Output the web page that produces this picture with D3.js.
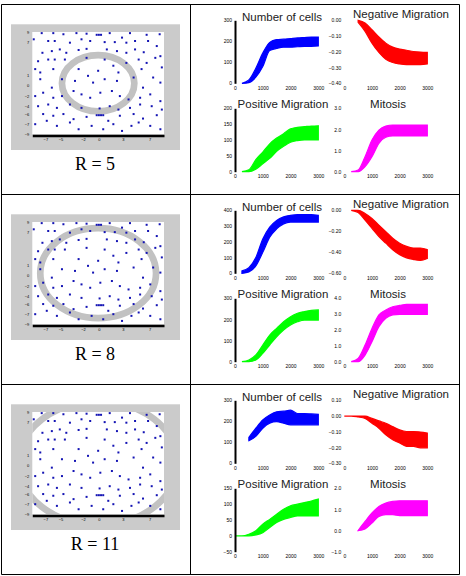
<!DOCTYPE html>
<html lang="en">
<head>
<meta charset="UTF-8">
<title>Cell runs for R = 5, 8, 11</title>
<script src="https://d3js.org/d3.v7.min.js"></script>
<style>
  body { margin: 0; background: #fff; }
  .title { font-family: "Liberation Sans", Arial, sans-serif; font-size: 11.5px; fill: #222; }
  .tick text { font-family: "Liberation Sans", Arial, sans-serif; fill: #000; }
  .rlabel { font-family: "Liberation Serif", "Times New Roman", serif; font-size: 18px; fill: #000; }
</style>
</head>
<body>
<div id="chart"></div>
<script>
// time steps shared by every small plot
const time = [0, 250, 500, 750, 1000, 1250, 1500, 1750, 2000, 2250, 2500, 2750, 3000];
const xTicks = [0, 1000, 2000, 3000];
const radii = [5, 8, 11];
const titles = ["Number of cells", "Negative Migration", "Positive Migration", "Mitosis"];
const colors = ["#0000ff", "#ff0000", "#00ff00", "#ff00ff"];

// R = 5 : lower / upper edge of the bundle of runs
const cellsLo5 = [null, 0, 3, 29, 80, 156, 166, 172, 172, 174, 176, 176, 178];
const cellsHi5 = [null, 0, 16, 72, 144, 195, 208, 210, 213, 216, 218, 220, 220];
const negLo5 = [null, null, -0.013, -0.07, -0.145, -0.204, -0.247, -0.268, -0.277, -0.281, -0.281, -0.281, -0.277];
const negHi5 = [null, null, 0, -0.017, -0.06, -0.106, -0.145, -0.17, -0.183, -0.19, -0.198, -0.202, -0.204];
const posLo5 = [null, 0, 0, 8, 25, 42, 64, 80, 93, 98, 100, 100, 100];
const posHi5 = [null, 0, 6, 38, 62, 88, 106, 120, 135, 140, 142, 144, 145];
const mitLo5 = [null, 0, 0, 0.24, 0.71, 1.34, 1.63, 1.69, 1.69, 1.69, 1.69, 1.69, 1.69];
const mitHi5 = [null, 0, 0.08, 0.71, 1.5, 1.97, 2.16, 2.21, 2.21, 2.21, 2.21, 2.21, 2.21];

// R = 8
const cellsLo8 = [null, 0, 9, 47, 133, 229, 282, 314, 325, 325, 325, 325, 325];
const cellsHi8 = [null, 15, 36, 100, 218, 293, 336, 358, 368, 372, 372, 372, 368];
const negLo8 = [null, 0, -0.022, -0.094, -0.172, -0.25, -0.313, -0.375, -0.422, -0.453, -0.469, -0.478, -0.459];
const negHi8 = [null, 0, 0, -0.031, -0.078, -0.141, -0.203, -0.266, -0.313, -0.344, -0.359, -0.359, -0.375];
const posLo8 = [null, 0, 0, 8, 39, 79, 118, 150, 174, 189, 197, 197, 197];
const posHi8 = [null, 0, 8, 32, 79, 126, 158, 189, 213, 229, 237, 243, 245];
const mitLo8 = [null, 0, 0, 0.42, 1.26, 2.21, 2.74, 2.95, 2.99, 2.99, 2.99, 2.99, 2.99];
const mitHi8 = [null, 0, 0.21, 1.05, 2.1, 2.95, 3.26, 3.47, 3.55, 3.62, 3.62, 3.62, 3.62];

// R = 11
const cellsLo11 = [null, null, 108, 128, 167, 191, 198, 191, 183, 183, 183, 183, 183];
const cellsHi11 = [null, null, 123, 167, 206, 230, 245, 248, 253, 237, 237, 235, 233];
const negLo11 = [0, 0, -0.006, -0.015, -0.046, -0.077, -0.119, -0.15, -0.171, -0.192, -0.192, -0.202, -0.202];
const negHi11 = [0, 0, 0, 0, -0.015, -0.031, -0.046, -0.067, -0.088, -0.098, -0.098, -0.102, -0.108];
const posLo11 = [0, 0, 0, 3, 10, 26, 42, 52, 58, 63, 63, 63, 63];
const posHi11 = [0, 0, 5, 16, 37, 52, 68, 84, 95, 100, 105, 110, 116];
const mitLo11 = [null, null, 0, 0.08, 0.35, 0.67, 0.75, 0.75, 0.71, 0.71, 0.71, 0.71, 0.71];
const mitHi11 = [null, null, 0, 0.43, 0.83, 1.14, 1.3, 1.38, 1.41, 1.41, 1.41, 1.41, 1.41];

// y ranges and tick values of the small plots, one row per radius
const yDomains = [
  [[0, 300], [-0.4, 0], [0, 200], [0, 3]],
  [[0, 400], [-0.6, 0], [0, 300], [0, 4]],
  [[0, 300], [-0.3, 0.1], [-50, 150], [-1, 2]]
];
const yTicks = [
  [[0, 100, 200, 300], [-0.4, -0.3, -0.2, -0.1, 0], [0, 50, 100, 150, 200], [0, 1, 2, 3]],
  [[0, 100, 200, 300, 400], [-0.6, -0.4, -0.2, 0], [0, 100, 200, 300], [0, 1, 2, 3, 4]],
  [[0, 100, 200, 300], [-0.3, -0.2, -0.1, 0, 0.1], [-50, 0, 50, 100, 150], [-1, 0, 1, 2]]
];

// cell positions on the lattice (same for the three snapshots)
const cellDots = [
  [-7.8,8.9],[-6.2,8.9],[-4.8,8.7],[-3.0,8.9],[-1.6,8.8],[-0.2,8.6],[0.1,8.6],[0.4,8.6],[1.6,8.9],[3.3,8.1],[4.4,8.9],[6.7,8.6],[8.5,8.7],
  [-8.9,7.8],[-6.9,7.5],[-6.0,7.5],[-3.9,7.2],[-2.3,7.8],[-1.1,7.5],[0.9,7.3],[2.3,7.3],[3.9,7.2],[5.1,7.5],[6.9,7.5],[8.1,6.6],
  [-7.7,5.4],[-6.4,5.7],[-5.3,6.0],[-4.4,5.4],[-2.7,5.9],[-1.6,6.1],[1.2,6.0],[2.6,5.7],[3.9,5.4],[5.1,6.0],[6.3,5.5],[8.6,4.8],
  [-8.3,3.9],[-6.9,4.2],[-6.0,4.2],[-4.6,4.2],[-1.6,4.5],[0.9,4.2],[2.1,3.1],[3.9,3.6],[5.6,4.2],[6.7,3.6],[7.9,4.5],
  [-8.7,2.5],[-8.0,1.9],[-6.2,2.5],[-2.7,2.5],[0.0,2.2],[2.8,1.9],[6.0,2.5],[7.6,1.0],[8.8,2.8],
  [-8.0,0.7],[-6.4,-0.8],[-5.0,0.7],[-3.2,0.4],[-1.4,1.3],[-0.7,0.1],[0.9,0.7],[2.6,0.4],[4.9,1.0],[6.2,-0.8],[8.6,0.1],
  [-8.7,-2.3],[-7.6,-1.7],[-6.2,-2.6],[-5.0,-2.3],[-3.4,-1.4],[-2.3,-2.0],[-1.1,-2.6],[0.3,-1.7],[1.9,-1.4],[3.0,-2.3],[4.2,-2.9],[5.8,-2.6],[7.2,-2.0],[8.6,-3.2],
  [-8.3,-4.1],[-6.9,-3.8],[-5.7,-4.4],[-3.9,-3.8],[-2.3,-4.4],[0.2,-4.5],[1.6,-4.1],[2.8,-4.7],[4.4,-4.4],[5.8,-3.8],[7.4,-4.1],[8.8,-4.7],
  [-7.6,-5.5],[-6.2,-5.8],[-4.8,-5.5],[-3.4,-6.4],[-1.6,-6.0],[-0.2,-5.7],[0.1,-5.7],[0.4,-5.7],[0.7,-5.7],[1.4,-6.7],[3.0,-5.8],[4.9,-5.5],[6.2,-6.3],[8.1,-5.7],
  [-8.7,-7.3],[-7.1,-6.7],[-5.7,-7.6],[-3.9,-7.0],[-2.7,-8.2],[-0.9,-7.6],[0.7,-8.2],[2.1,-7.3],[3.3,-8.5],[4.6,-7.6],[5.6,-7.0],[7.2,-7.6],[8.6,-8.2]
];
const simTicksX = [-7.3, -5.2, -2.1, 0.1, 3.4, 7.1];
const simTicksY = [9, 7.2, 1.4, -0.4, -2.3, -4.1, -5.6, -7.3, -9.1];

const lows = [[cellsLo5, negLo5, posLo5, mitLo5], [cellsLo8, negLo8, posLo8, mitLo8], [cellsLo11, negLo11, posLo11, mitLo11]];
const highs = [[cellsHi5, negHi5, posHi5, mitHi5], [cellsHi8, negHi8, posHi8, mitHi8], [cellsHi11, negHi11, posHi11, mitHi11]];

const width = 466, height = 576;
const rowTops = [4, 194, 384];

// where the four small plots sit inside a row
const frames = [
  {x0: 235, x1: 318.3, yb: 79.3, yt: 16.3, tx: 282, ty: 16.5, line: true},
  {x0: 344.3, x1: 427.3, yb: 79.3, yt: 16.3, tx: 401, ty: 14, line: false},
  {x0: 235, x1: 318.3, yb: 167.7, yt: 104.3, tx: 283, ty: 103.5, line: true},
  {x0: 344.3, x1: 427.3, yb: 167.7, yt: 104.3, tx: 388, ty: 103.5, line: false}
];

const svg = d3.select("#chart").append("svg")
  .attr("width", width)
  .attr("height", height);

svg.append("rect").attr("width", width).attr("height", height).attr("fill", "#fff");

radii.forEach((R, i) => {
  const g = svg.append("g").attr("transform", `translate(0,${rowTops[i]})`);

  // --- lattice snapshot on the left ---
  const sx = d3.scaleLinear().domain([-9.1, 9.1]).range([32.3, 164]);
  const sy = d3.scaleLinear().domain([-9.1, 9.1]).range([130.3, 28]);

  g.append("rect")
    .attr("x", 11).attr("y", 20.3)
    .attr("width", 169).attr("height", 125.7)
    .attr("fill", "#cbcbcb");

  g.append("rect")
    .attr("x", sx(-9.1)).attr("y", sy(9.1))
    .attr("width", sx(9.1) - sx(-9.1)).attr("height", sy(-9.1) - sy(9.1))
    .attr("fill", "#fff");

  const clipId = "clip" + i;
  g.append("clipPath").attr("id", clipId)
    .append("rect")
    .attr("x", sx(-9.1)).attr("y", sy(9.1))
    .attr("width", sx(9.1) - sx(-9.1)).attr("height", sy(-9.1) - sy(9.1));

  g.append("ellipse")
    .attr("clip-path", `url(#${clipId})`)
    .attr("cx", sx(0)).attr("cy", sy(0))
    .attr("rx", sx(R) - sx(0)).attr("ry", sy(0) - sy(R))
    .attr("fill", "none")
    .attr("stroke", "#c2c2c2")
    .attr("stroke-width", 6.7);

  g.selectAll(".cell")
    .data(cellDots)
    .enter()
    .append("rect")
    .attr("class", "cell")
    .attr("x", d => sx(d[0]) - 1)
    .attr("y", d => sy(d[1]) - 1)
    .attr("width", 2)
    .attr("height", 2)
    .attr("fill", "#1414b4");

  const simX = g.append("g")
    .attr("transform", `translate(0,${sy(-9.1) + 1.2})`)
    .call(d3.axisBottom(sx).tickValues(simTicksX).tickSize(0).tickPadding(3).tickFormat(d3.format("d")));
  simX.attr("font-size", 4);
  simX.select(".domain").attr("stroke", "#000").attr("stroke-width", 2.4);

  const simY = g.append("g")
    .attr("transform", `translate(${sx(-9.1)},0)`)
    .call(d3.axisLeft(sy).tickValues(simTicksY).tickSize(0).tickPadding(3).tickFormat(d3.format("d")));
  simY.attr("font-size", 4);
  simY.select(".domain").remove();

  g.append("text")
    .attr("class", "rlabel")
    .attr("x", 95)
    .attr("y", 165.5)
    .attr("text-anchor", "middle")
    .text(`R = ${R}`);

  // --- four small plots on the right ---
  frames.forEach((f, j) => {
    const x = d3.scaleLinear().domain([0, 3000]).range([f.x0, f.x1]);
    const y = d3.scaleLinear().domain(yDomains[i][j]).range([f.yb, f.yt]);

    const series = time.map((t, k) => ({t: t, lo: lows[i][j][k], hi: highs[i][j][k]}));

    const band = d3.area()
      .defined(d => d.lo != null)
      .x(d => x(d.t))
      .y0(d => y(d.lo))
      .y1(d => y(d.hi))
      .curve(d3.curveMonotoneX);

    g.append("path")
      .datum(series)
      .attr("d", band)
      .attr("fill", colors[j])
      .attr("stroke", colors[j])
      .attr("stroke-width", 1.2);

    const ya = g.append("g")
      .attr("transform", `translate(${f.x0},0)`)
      .call(d3.axisLeft(y).tickValues(yTicks[i][j]).tickSize(0).tickPadding(3).tickSizeOuter(0));
    ya.attr("font-size", 5);
    if (f.line) {
      ya.select(".domain").attr("stroke", "#000").attr("stroke-width", 2);
    } else {
      ya.select(".domain").remove();
    }

    const xa = g.append("g")
      .attr("transform", `translate(0,${f.yb})`)
      .call(d3.axisBottom(x).tickValues(xTicks).tickSize(0).tickPadding(3).tickFormat(d3.format("d")));
    xa.attr("font-size", 5);
    xa.select(".domain").remove();

    g.append("text")
      .attr("class", "title")
      .attr("x", f.tx)
      .attr("y", f.ty)
      .attr("text-anchor", "middle")
      .text(titles[j]);
  });
});

// table rules
const rules = [
  [1.5, 4.5, 459.5, 4.5], [1.5, 194.5, 459.5, 194.5], [1.5, 384.5, 459.5, 384.5], [1.5, 574.5, 459.5, 574.5],
  [1.5, 4.5, 1.5, 574.5], [190.5, 4.5, 190.5, 574.5], [459.5, 4.5, 459.5, 574.5]
];
svg.selectAll(".rule")
  .data(rules)
  .enter()
  .append("line")
  .attr("class", "rule")
  .attr("x1", d => d[0]).attr("y1", d => d[1])
  .attr("x2", d => d[2]).attr("y2", d => d[3])
  .attr("stroke", "#000")
  .attr("stroke-width", 1);
</script>
</body>
</html>
